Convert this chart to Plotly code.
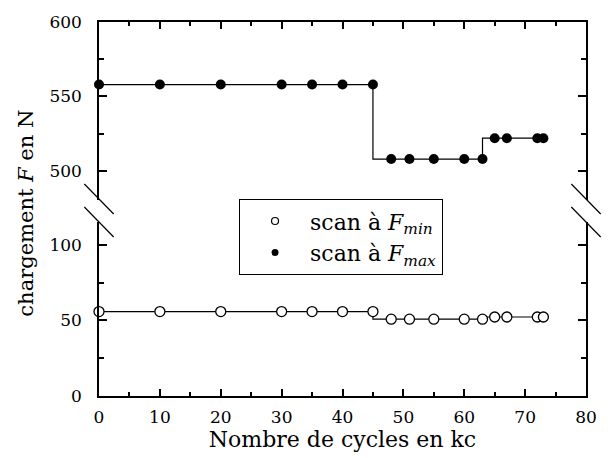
import plotly.graph_objects as go

# Data
cycles = [0, 10, 20, 30, 35, 40, 45, 48, 51, 55, 60, 63, 65, 67, 72, 73]
f_max = [558, 558, 558, 558, 558, 558, 558, 508, 508, 508, 508, 508, 522, 522, 522, 522]
f_min = [55.8, 55.8, 55.8, 55.8, 55.8, 55.8, 55.8, 50.8, 50.8, 50.8, 50.8, 50.8, 52.2, 52.2, 52.2, 52.2]

FONT = 'DejaVu Serif'
W, H = 608, 458
L, R, T, B = 99, 11, 22, 62
pw, ph = W - L - R, H - T - B

def px(x):
    return (x - L) / pw

def py(y):
    return (H - B - y) / ph

fig = go.Figure()

# F_min on the lower axis
fig.add_trace(go.Scatter(
    x=cycles, y=f_min, mode='lines+markers', line_shape='vh',
    line=dict(color='black', width=1.2),
    marker=dict(symbol='circle', size=10, color='white', line=dict(color='black', width=1.3)),
    xaxis='x', yaxis='y', showlegend=False, cliponaxis=False
))

# F_max on the upper axis
fig.add_trace(go.Scatter(
    x=cycles, y=f_max, mode='lines+markers', line_shape='vh',
    line=dict(color='black', width=1.2),
    marker=dict(symbol='circle', size=10, color='black'),
    xaxis='x2', yaxis='y2', showlegend=False, cliponaxis=False
))

# legend entries only
fig.add_trace(go.Scatter(
    x=[None], y=[None], mode='markers', name='scan à <i>F</i><sub><i>min</i></sub>',
    marker=dict(size=7, color='white', line=dict(color='black', width=1.2))
))
fig.add_trace(go.Scatter(
    x=[None], y=[None], mode='markers', name='scan à <i>F</i><sub><i>max</i></sub>',
    marker=dict(size=7, color='black')
))

def axis(**kw):
    d = dict(
        showline=True, linecolor='black', linewidth=1.5, ticks='inside',
        tickcolor='black', tickwidth=1.5, showgrid=False, zeroline=False,
        tickfont=dict(family=FONT, size=17, color='black'),
    )
    d.update(kw)
    return d

xminor = dict(dtick=5, ticklen=4, ticks='inside', tickcolor='black', tickwidth=1.5)
yminor = dict(dtick=25, ticklen=5, ticks='inside', tickcolor='black', tickwidth=1.5)

y_low_top = py(222)
y_up_bot = py(200)

fig.update_layout(
    width=W, height=H,
    margin=dict(l=L, r=R, t=T, b=B),
    plot_bgcolor='white', paper_bgcolor='white',
    font=dict(family=FONT, color='black'),
    xaxis=axis(domain=[0, 1], range=[0, 80], dtick=10, ticklen=7, minor=xminor, anchor='y',
               ticklabelstandoff=5,
               title=dict(text='Nombre de cycles en kc', font=dict(family=FONT, size=22), standoff=4)),
    xaxis2=axis(domain=[0, 1], range=[0, 80], dtick=10, ticklen=7, minor=xminor,
                anchor='y2', side='top', showticklabels=False),
    yaxis=axis(domain=[0, y_low_top], range=[0, 115], dtick=50, ticklen=8, minor=yminor,
               anchor='x', mirror='ticks', ticklabelstandoff=12),
    yaxis2=axis(domain=[y_up_bot, 1], range=[480.5, 600], dtick=50, ticklen=8, minor=yminor,
                anchor='x2', mirror='ticks', ticklabelstandoff=12),
    legend=dict(
        x=px(242), y=py(199), xanchor='left', yanchor='top',
        bgcolor='white', bordercolor='black', borderwidth=1.2,
        font=dict(family=FONT, size=22, color='black'),
        itemwidth=60,
    ),
    annotations=[dict(
        text='chargement <i>F</i> en N', textangle=-90,
        xref='paper', yref='paper', x=px(24), y=py(213),
        xanchor='center', yanchor='middle', showarrow=False,
        font=dict(family=FONT, size=21, color='black'),
    )],
)

# axis break marks
for xc in (L, L + pw):
    for ya, yb in ((184, 214), (207, 237)):
        fig.add_shape(type='line', xref='paper', yref='paper',
                      x0=px(xc - 15), y0=py(ya), x1=px(xc + 15), y1=py(yb),
                      line=dict(color='black', width=1.2))

fig.write_html('out.html', config={'displayModeBar': False},
               post_script="document.body.style.margin='0';document.body.style.overflow='hidden';")
